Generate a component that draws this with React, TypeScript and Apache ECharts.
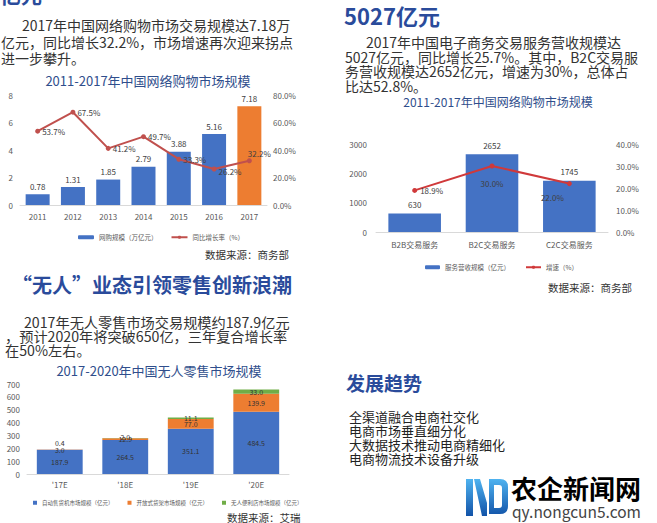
import React, { useEffect, useRef } from 'react';
import * as echarts from 'echarts';

const years = ['2011', '2012', '2013', '2014', '2015', '2016', '2017'];
const onlineScale = [0.78, 1.31, 1.85, 2.79, 3.88, 5.16, 7.18];
const onlineGrowth = [53.7, 67.5, 41.2, 49.7, 33.3, 26.2, 32.2];

const ecCats = ['B2B交易服务', 'B2C交易服务', 'C2C交易服务'];
const ecRevenue = [630, 2652, 1745];
const ecGrowth = [18.9, 30.0, 22.0];

const unmannedCats = ["'17E", "'18E", "'19E", "'20E"];
const vending = [187.9, 264.5, 351.1, 484.5];
const shelves = [3.0, 12.9, 77.0, 139.9];
const stores = [0.4, 2.0, 11.1, 33.0];

const para1 = ['2017年中国网络购物市场交易规模达7.18万', '亿元，同比增长32.2%，市场增速再次迎来拐点', '进一步攀升。'];
const para2 = ['2017年中国电子商务交易服务营收规模达', '5027亿元，同比增长25.7%。其中，B2C交易服', '务营收规模达2652亿元，增速为30%，总体占', '比达52.8%。'];
const para3 = ['2017年无人零售市场交易规模约187.9亿元', '，预计2020年将突破650亿，三年复合增长率', '在50%左右。'];
const trends = ['全渠道融合电商社交化', '电商市场垂直细分化', '大数据技术推动电商精细化', '电商物流技术设备升级'];

const FF = '"Noto Sans CJK SC", "Noto Sans", sans-serif';
const HEAD = '#2a4b9b';
const CTITLE = '#2f4e8c';
const TXT = '#333333';
const AX = '#595959';

const logoD =
  'M466 479 L473 479 L473 516 L466 516 Z ' +
  'M474 479 L480 479 L487 503 L487 516 L482 516 Z ' +
  'M489 479 L500 479 Q508 479 508 487 L508 506 Q508 514 500 514 L489 514 Z ' +
  'M494 485 L494 508 L499 508 Q502 508 502 505 L502 488 Q502 485 499 485 Z';

let registered = false;

function txt(text: string, x: number, y: number, font: string, fill: any, align = 'left') {
  return {
    type: 'text',
    x,
    y,
    silent: true,
    style: {
      text,
      font,
      fill,
      align,
      verticalAlign: 'middle',
      textAlign: align,
      textVerticalAlign: 'middle',
    },
  };
}

export default function App() {
  const ref = useRef<HTMLDivElement>(null);
  useEffect(() => {
    if (!ref.current) return;
    if (!registered) {
      echarts.graphic.registerShape('logo', echarts.graphic.extendPath(logoD, {}) as any);
      registered = true;
    }
    const chart = echarts.init(ref.current, undefined, { renderer: 'svg' });
    const plain = (v: number) => String(v);
    const pct = (v: number) => v.toFixed(1) + '%';
    const axisLabel = (margin: number, fmt: any = plain) => ({
      color: AX,
      fontSize: 8,
      margin,
      fontFamily: FF,
      formatter: fmt,
    });
    const xAxisBase = {
      type: 'category',
      axisLine: { lineStyle: { color: '#d9d9d9' } },
      axisTick: { show: false },
    };
    const yBase = {
      type: 'value',
      splitLine: { show: false },
      axisLine: { show: false },
      axisTick: { show: false },
    };

    const graphics: any[] = [];
    graphics.push(txt('亿元', 0, -6, `bold 21px ${FF}`, HEAD));
    para1.forEach((l, i) => graphics.push(txt(l, i === 0 ? 22 : 1, 25 + i * 16.5, `14px ${FF}`, TXT)));
    graphics.push(txt('2011-2017年中国网络购物市场规模', 148, 80, `13px ${FF}`, CTITLE, 'center'));
    graphics.push(txt('数据来源：商务部', 205, 254, `10.5px ${FF}`, TXT));

    graphics.push(txt('5027亿元', 344, 15, `bold 22px ${FF}`, HEAD));
    para2.forEach((l, i) => graphics.push(txt(l, i === 0 ? 366 : 345, 42 + i * 14.5, `14px ${FF}`, TXT)));
    graphics.push(txt('2011-2017年中国网络购物市场规模', 498, 101, `12px ${FF}`, CTITLE, 'center'));
    graphics.push(txt('数据来源：商务部', 548, 287, `10.5px ${FF}`, TXT));

    graphics.push(txt('“无人”业态引领零售创新浪潮', 12, 284, `bold 20px ${FF}`, HEAD));
    para3.forEach((l, i) => graphics.push(txt(l, i === 0 ? 24 : 5, 322 + i * 14, `14.2px ${FF}`, TXT)));
    graphics.push(txt('2017-2020年中国无人零售市场规模', 159, 370, `13px ${FF}`, CTITLE, 'center'));
    graphics.push(txt('数据来源：艾瑞', 227, 517, `10.5px ${FF}`, TXT));

    graphics.push(txt('发展趋势', 346, 382, `bold 19px ${FF}`, HEAD));
    trends.forEach((l, i) => graphics.push(txt(l, 349, 416 + i * 14.2, `13px ${FF}`, '#222222')));

    const blueGrad = new echarts.graphic.LinearGradient(0, 0, 0, 1, [
      { offset: 0, color: '#4fb3f0' },
      { offset: 1, color: '#1253a8' },
    ]);
    graphics.push({ type: 'logo', x: 0, y: 0, silent: true, style: { fill: blueGrad } });
    graphics.push(txt('农企新闻网', 511, 487, `bold 26px ${FF}`, blueGrad));
    graphics.push(txt('qy.nongcun5.com', 512, 511, `15.5px ${FF}`, '#444444'));

    chart.setOption({
      animation: false,
      textStyle: { fontFamily: FF },
      graphic: graphics,
      grid: [
        { left: 20, top: 95, width: 247, height: 110 },
        { left: 376, top: 144, width: 232, height: 88 },
        { left: 27, top: 384, width: 262, height: 90 },
      ],
      legend: [
        {
          data: ['网购规模（万亿元）', '同比增长率（%）'],
          left: 73, top: 229, itemWidth: 16, itemHeight: 4, itemGap: 13,
          textStyle: { fontSize: 6.5, color: AX, fontFamily: FF },
        },
        {
          data: ['服务营收规模（亿元）', '增速（%）'],
          left: 420, top: 259, itemWidth: 15, itemHeight: 4, itemGap: 15,
          textStyle: { fontSize: 6.5, color: AX, fontFamily: FF },
        },
        {
          data: ['自动售货机市场规模（亿元）', '开放式货架市场规模（亿元）', '无人便利店市场规模（亿元）'],
          left: 28, top: 495, itemWidth: 4, itemHeight: 4, itemGap: 14, icon: 'rect',
          textStyle: { fontSize: 5.5, color: AX, fontFamily: FF },
        },
      ],
      xAxis: [
        { ...xAxisBase, gridIndex: 0, data: years, axisLabel: axisLabel(7, null) },
        { ...xAxisBase, gridIndex: 1, data: ecCats, axisLabel: axisLabel(8, null) },
        { ...xAxisBase, gridIndex: 2, data: unmannedCats, axisLabel: axisLabel(6, null) },
      ],
      yAxis: [
        { ...yBase, gridIndex: 0, min: 0, max: 8, interval: 2, axisLabel: axisLabel(7) },
        { ...yBase, gridIndex: 0, position: 'right', min: 0, max: 80, interval: 20, axisLabel: axisLabel(6, pct) },
        { ...yBase, gridIndex: 1, min: 0, max: 3000, interval: 1000, axisLabel: axisLabel(9) },
        { ...yBase, gridIndex: 1, position: 'right', min: 0, max: 40, interval: 10, axisLabel: axisLabel(8, pct) },
        { ...yBase, gridIndex: 2, min: 0, max: 700, interval: 100, axisLabel: axisLabel(7) },
      ],
      series: [
        {
          type: 'bar', name: '网购规模（万亿元）', xAxisIndex: 0, yAxisIndex: 0, barWidth: '68%',
          color: '#4472c4',
          data: onlineScale.map((v, i) => (i === onlineScale.length - 1 ? { value: v, itemStyle: { color: '#ed7d31' } } : v)),
          label: { show: true, position: 'top', fontSize: 8, color: '#404040', distance: 4 },
        },
        {
          type: 'line', name: '同比增长率（%）', xAxisIndex: 0, yAxisIndex: 1,
          color: '#c0504d', symbol: 'circle', symbolSize: 5, lineStyle: { width: 2 },
          data: onlineGrowth.map((v, i) => ({
            value: v,
            label: i === 6 ? { offset: [-6, -7] } : i === 5 ? { offset: [0, 3] } : {},
          })),
          label: { show: true, position: 'right', fontSize: 8, color: '#404040', distance: 2, formatter: (p: any) => p.value.toFixed(1) + '%' },
        },
        {
          type: 'bar', name: '服务营收规模（亿元）', xAxisIndex: 1, yAxisIndex: 2, barWidth: '68%',
          color: '#4472c4', data: ecRevenue,
          label: { show: true, position: 'top', fontSize: 8, color: '#404040', distance: 5 },
        },
        {
          type: 'line', name: '增速（%）', xAxisIndex: 1, yAxisIndex: 3,
          color: '#d0393a', symbol: 'circle', symbolSize: 5, lineStyle: { width: 2 },
          data: ecGrowth.map((v, i) => ({
            value: v,
            label: i === 0 ? { position: 'right', distance: 3 } : i === 1 ? { position: 'bottom', distance: 11 } : { position: 'bottom', offset: [-17, 2] },
          })),
          label: { show: true, fontSize: 8, color: '#404040', formatter: (p: any) => p.value.toFixed(1) + '%' },
        },
        {
          type: 'bar', name: '自动售货机市场规模（亿元）', xAxisIndex: 2, yAxisIndex: 4, stack: 'u', barWidth: '70%',
          color: '#4472c4', data: vending,
          label: { show: true, position: 'inside', fontSize: 7, color: '#333333', formatter: (p: any) => p.value.toFixed(1) },
        },
        {
          type: 'bar', name: '开放式货架市场规模（亿元）', xAxisIndex: 2, yAxisIndex: 4, stack: 'u', barWidth: '70%',
          color: '#ed7d31', data: shelves,
          label: { show: true, position: 'inside', fontSize: 7, color: '#333333', formatter: (p: any) => p.value.toFixed(1) },
        },
        {
          type: 'bar', name: '无人便利店市场规模（亿元）', xAxisIndex: 2, yAxisIndex: 4, stack: 'u', barWidth: '70%',
          color: '#70ad47',
          data: stores.map((v, i) => ({ value: v, label: i === 0 ? { position: 'top', distance: 3 } : i === 1 ? { position: 'top', distance: -2 } : {} })),
          label: { show: true, position: 'inside', fontSize: 7, color: '#333333', formatter: (p: any) => p.value.toFixed(1) },
        },
      ],
    } as any);
    return () => chart.dispose();
  }, []);
  return <div ref={ref} style={{ position: 'absolute', left: 0, top: 0, width: 657, height: 523, background: '#ffffff' }} />;
}
